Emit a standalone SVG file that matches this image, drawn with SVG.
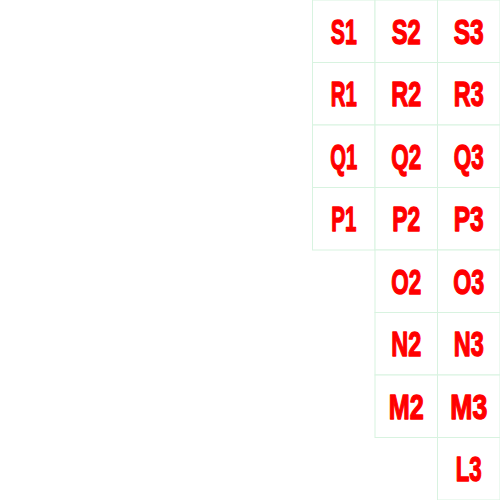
<svg xmlns="http://www.w3.org/2000/svg" width="500" height="500" viewBox="0 0 500 500">
<style>
.cell rect{fill:#ffffff;stroke:#d8f3e0;stroke-width:1}
.cell text{fill:#ff0000;stroke:#ff0000;stroke-width:1.4;stroke-linejoin:round;font-family:"Liberation Sans Narrow","Liberation Sans",Arial,sans-serif;font-weight:bold;font-size:35px;text-anchor:middle}
</style>
<rect width="500" height="500" fill="#ffffff"/>
<g id="S1" class="cell"><rect x="312.5" y="0" width="62.5" height="62.5"/><text x="343.75" y="43.5" textLength="26" lengthAdjust="spacingAndGlyphs">S1</text></g>
<g id="S2" class="cell"><rect x="375" y="0" width="62.5" height="62.5"/><text x="406.25" y="43.5" textLength="29" lengthAdjust="spacingAndGlyphs">S2</text></g>
<g id="S3" class="cell"><rect x="437.5" y="0" width="62.5" height="62.5"/><text x="468.75" y="43.5" textLength="30" lengthAdjust="spacingAndGlyphs">S3</text></g>
<g id="R1" class="cell"><rect x="312.5" y="62.5" width="62.5" height="62.5"/><text x="343.75" y="106" textLength="26" lengthAdjust="spacingAndGlyphs">R1</text></g>
<g id="R2" class="cell"><rect x="375" y="62.5" width="62.5" height="62.5"/><text x="406.25" y="106" textLength="30" lengthAdjust="spacingAndGlyphs">R2</text></g>
<g id="R3" class="cell"><rect x="437.5" y="62.5" width="62.5" height="62.5"/><text x="468.75" y="106" textLength="30" lengthAdjust="spacingAndGlyphs">R3</text></g>
<g id="Q1" class="cell"><rect x="312.5" y="125" width="62.5" height="62.5"/><text x="343.75" y="168.5" textLength="27" lengthAdjust="spacingAndGlyphs">Q1</text></g>
<g id="Q2" class="cell"><rect x="375" y="125" width="62.5" height="62.5"/><text x="406.25" y="168.5" textLength="30" lengthAdjust="spacingAndGlyphs">Q2</text></g>
<g id="Q3" class="cell"><rect x="437.5" y="125" width="62.5" height="62.5"/><text x="468.75" y="168.5" textLength="30" lengthAdjust="spacingAndGlyphs">Q3</text></g>
<g id="P1" class="cell"><rect x="312.5" y="187.5" width="62.5" height="62.5"/><text x="343.75" y="231" textLength="25" lengthAdjust="spacingAndGlyphs">P1</text></g>
<g id="P2" class="cell"><rect x="375" y="187.5" width="62.5" height="62.5"/><text x="406.25" y="231" textLength="28" lengthAdjust="spacingAndGlyphs">P2</text></g>
<g id="P3" class="cell"><rect x="437.5" y="187.5" width="62.5" height="62.5"/><text x="468.75" y="231" textLength="30" lengthAdjust="spacingAndGlyphs">P3</text></g>
<g id="O2" class="cell"><rect x="375" y="250" width="62.5" height="62.5"/><text x="406.25" y="293.5" textLength="30" lengthAdjust="spacingAndGlyphs">O2</text></g>
<g id="O3" class="cell"><rect x="437.5" y="250" width="62.5" height="62.5"/><text x="468.75" y="293.5" textLength="31" lengthAdjust="spacingAndGlyphs">O3</text></g>
<g id="N2" class="cell"><rect x="375" y="312.5" width="62.5" height="62.5"/><text x="406.25" y="356" textLength="30" lengthAdjust="spacingAndGlyphs">N2</text></g>
<g id="N3" class="cell"><rect x="437.5" y="312.5" width="62.5" height="62.5"/><text x="468.75" y="356" textLength="30" lengthAdjust="spacingAndGlyphs">N3</text></g>
<g id="M2" class="cell"><rect x="375" y="375" width="62.5" height="62.5"/><text x="406.25" y="418.5" textLength="35" lengthAdjust="spacingAndGlyphs">M2</text></g>
<g id="M3" class="cell"><rect x="437.5" y="375" width="62.5" height="62.5"/><text x="468.75" y="418.5" textLength="37" lengthAdjust="spacingAndGlyphs">M3</text></g>
<g id="L3" class="cell"><rect x="437.5" y="437.5" width="62.5" height="62.5"/><text x="468.75" y="481" textLength="26" lengthAdjust="spacingAndGlyphs">L3</text></g>
<g id="connectors"/>
</svg>
